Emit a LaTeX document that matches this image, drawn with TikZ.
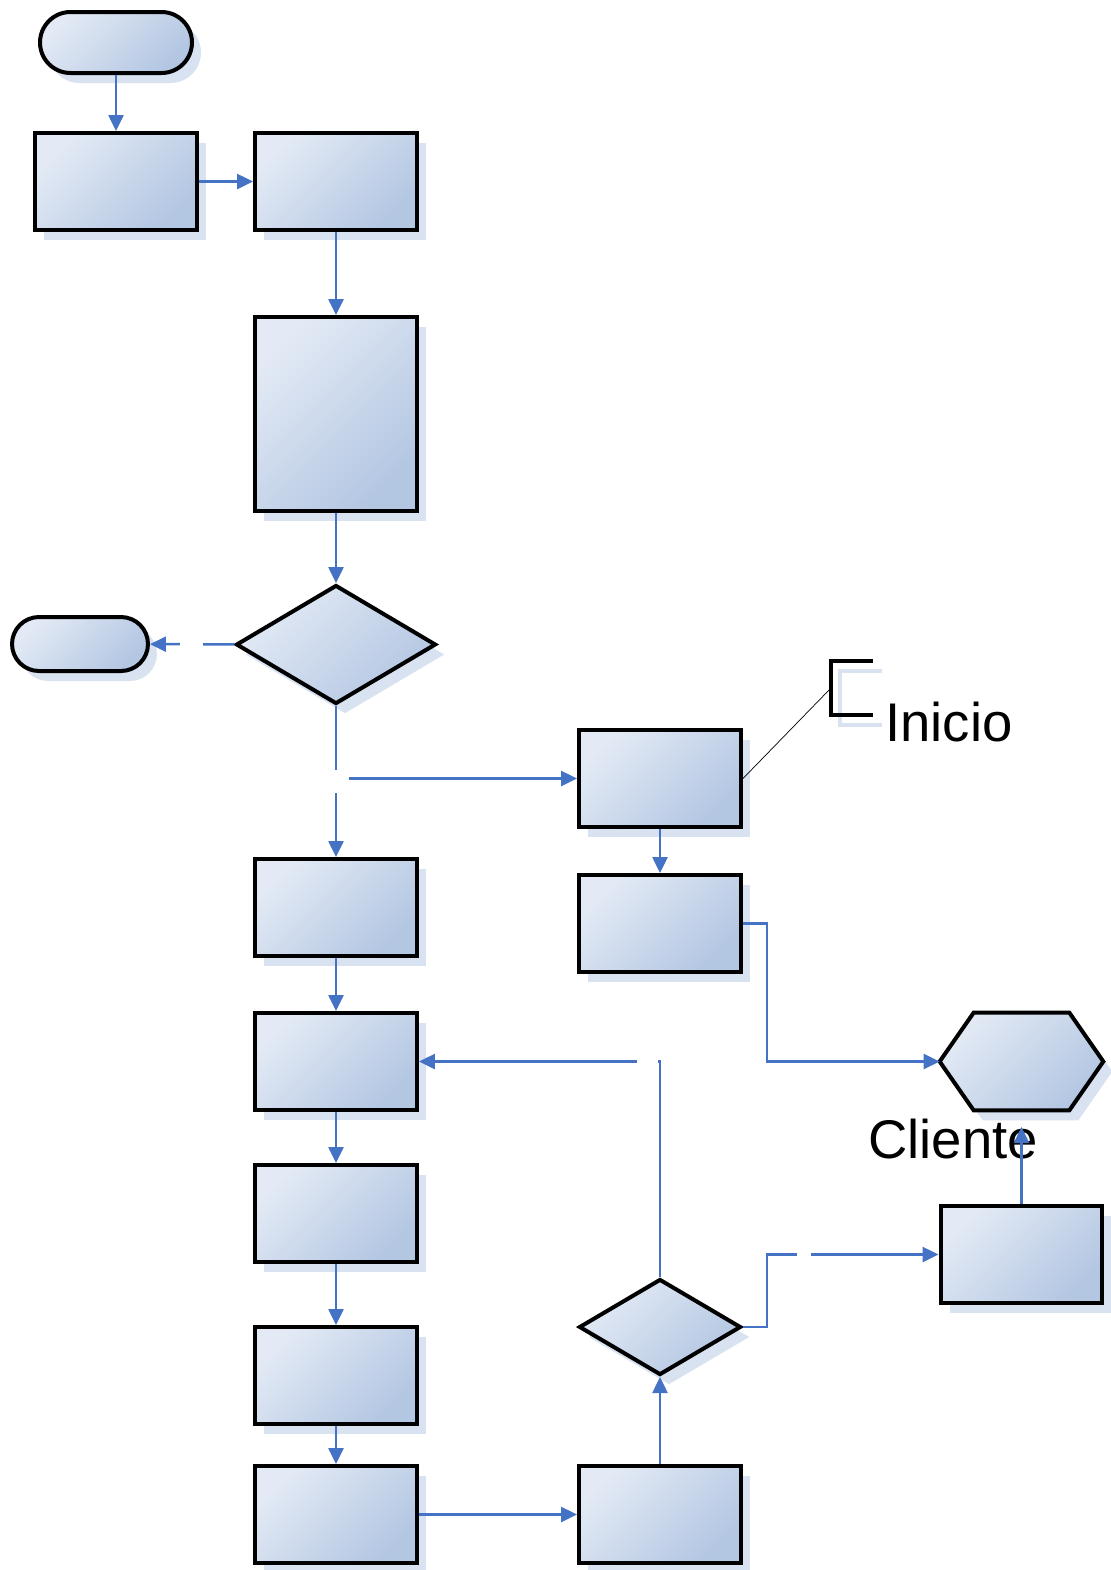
\documentclass[tikz,border=0pt]{standalone}
\usepackage{fontspec}
\setmainfont{Liberation Sans}
\usepackage{tikz}
\usetikzlibrary{shapes.geometric,shapes.misc,shadows,arrows.meta}

\definecolor{flowblue}{HTML}{4472C4}
\definecolor{boxlight}{HTML}{E3EAF5}
\definecolor{boxdark}{HTML}{B3C6E2}
\definecolor{shadowblue}{HTML}{D8E2F1}

\begin{document}
\begin{tikzpicture}[x=0.02cm, y=-0.02cm,
    base/.style={draw=black, line width=0.08cm, top color=boxlight, bottom color=boxdark,
        shading angle=45, inner sep=0,
        drop shadow={shadow xshift=0.18cm, shadow yshift=-0.2cm, fill=shadowblue, opacity=1}},
    box/.style={base, rectangle, minimum width=3.24cm, minimum height=1.94cm},
    term/.style={base, rounded rectangle, minimum width=#1},
    decision/.style={base, diamond},
    arrow/.style={-{Triangle[length=0.32cm,width=0.3cm]}, draw=flowblue, line width=0.05cm},
    gap/.style={fill=white, inner sep=0, minimum height=0.2cm},
    label/.style={anchor=base west, inner sep=0, font=\fontsize{31}{38}\selectfont}
]
\useasboundingbox (0,0) rectangle (1110,1570);

\node[term=3.04cm, minimum height=1.22cm] (t1) at (116,42.5) {};
\node[box] (a) at (116,181.5) {};
\node[box] (b) at (336,181.5) {};
\node[box, minimum height=3.88cm] (c) at (336,414) {};
\node[decision, minimum width=4cm, minimum height=2.38cm] (d1) at (336,644.5) {};
\node[term=2.72cm, minimum height=1.08cm] (t2) at (80,644) {};

\node[box] (e) at (660,778.5) {};
\node[box] (f) at (660,923.5) {};
\node[box] (g) at (336,907.5) {};
\node[box] (h) at (336,1061.5) {};
\node[box] (i) at (336,1213.5) {};
\node[box] (k) at (336,1375.5) {};
\node[box] (l) at (336,1514.5) {};
\node[box] (m) at (660,1514.5) {};
\node[decision, minimum width=3.24cm, minimum height=1.92cm] (d2) at (660,1327) {};
\node[box] (j) at (1021.5,1254.5) {};

% hexagon
\node[minimum width=3.26cm, minimum height=1.94cm, inner sep=0] (cli) at (1021.5,1061.5) {};
\path[base] (cli.west) -- ([xshift=0.68cm]cli.north west) -- ([xshift=-0.68cm]cli.north east)
    -- (cli.east) -- ([xshift=-0.68cm]cli.south east) -- ([xshift=0.68cm]cli.south west) -- cycle;
\node[label] (clitext) at (868,1158) {Cliente};
\coordinate (clitip) at (1021.5,1127);

% annotation
\coordinate (brk) at (831,688);
\draw[shadowblue, line width=0.08cm] (882,671) -- (840,671) -- (840,725) -- (882,725);
\draw[line width=0.08cm] (873,661) -- (831,661) -- (831,715) -- (873,715);
\draw[thin] (e.east) -- (brk);
\node[label] (inicio) at (885,741) {Inicio};

% main column
\draw[arrow] (t1) -- (a);
\draw[arrow] (a) -- (b);
\draw[arrow] (b) -- (c);
\draw[arrow] (c) -- (d1);
\draw[arrow] (d1) -- (t2);
\draw[arrow] (d1.south |- e.west) -- (e);
\draw[arrow] (d1) -- (g);
\draw[arrow] (g) -- (h);
\draw[arrow] (h) -- (i);
\draw[arrow] (i) -- (k);
\draw[arrow] (k) -- (l);
\draw[arrow] (l) -- (m);

% right side
\draw[arrow] (e) -- (f);
\draw[arrow] (f.east) -- ++(24,0) |- (cli.west);
\draw[arrow] (m) -- (d2);
\draw[arrow] (d2) |- (h);
\draw[arrow] (d2.east) -- ++(24,0) |- (j);
\draw[arrow] (j) -- (clitip);

% label gaps
\node[gap, minimum width=0.46cm] (gap1) at (191.5,644) {};
\node[gap, minimum width=0.52cm, minimum height=0.46cm] (gap2) at (336,781.5) {};
\node[gap, minimum width=0.42cm] (gap3) at (647.5,1061.5) {};
\node[gap, minimum width=0.28cm] (gap4) at (804,1254.5) {};

\end{tikzpicture}
\end{document}
